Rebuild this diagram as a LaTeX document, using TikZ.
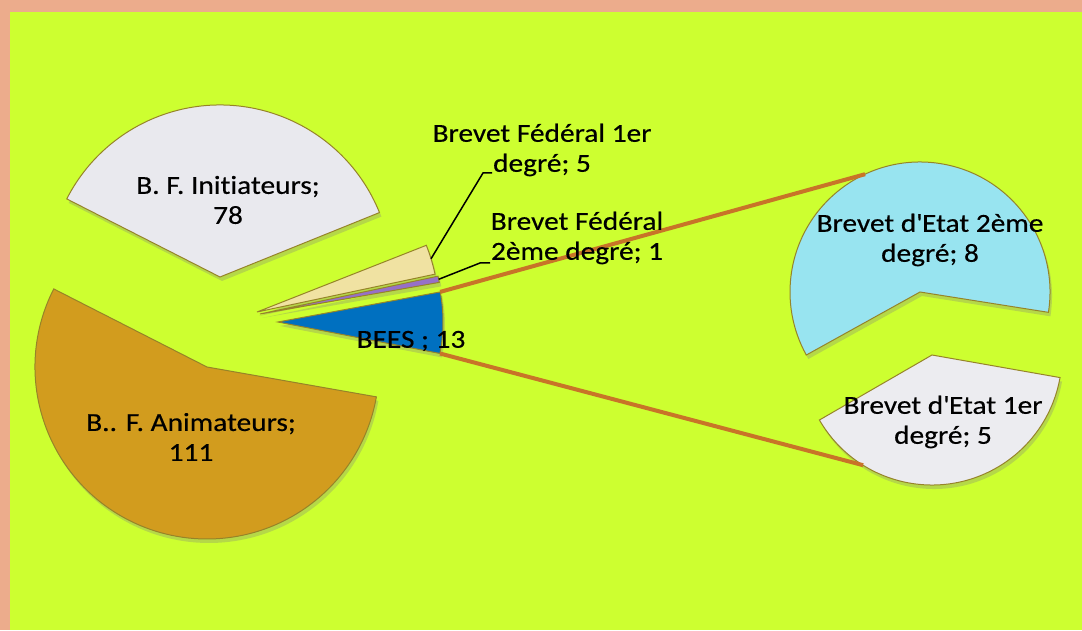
\documentclass[tikz,border=0pt]{standalone}
\usepackage{fontspec}
\setmainfont{Carlito}[FakeStretch=1.13,FakeBold=0.4,Ligatures=NoCommon]
\usetikzlibrary{shadows}
\definecolor{bggreen}{RGB}{205,255,48}
\definecolor{framesalmon}{RGB}{236,172,140}
\definecolor{initgrey}{RGB}{233,233,238}
\definecolor{animgold}{RGB}{210,156,30}
\definecolor{bfone}{RGB}{240,226,162}
\definecolor{bftwo}{RGB}{150,112,200}
\definecolor{beesblue}{RGB}{0,112,192}
\definecolor{betwo}{RGB}{152,228,240}
\definecolor{beone}{RGB}{236,236,240}
\definecolor{sliceline}{RGB}{150,132,40}
\definecolor{linkorange}{RGB}{200,116,40}

\begin{document}
\begin{tikzpicture}
[x=1pt,y=1pt,
slice/.style={draw=sliceline,line width=1pt,drop shadow={opacity=0.3,shadow xshift=2pt,shadow yshift=-4pt}},
lbl/.style={align=center,font=\fontsize{26}{30}\selectfont,inner sep=0pt},
link/.style={draw=linkorange,line width=4pt},
leader/.style={draw=black,line width=1.5pt}]
\useasboundingbox (0,0) rectangle (1082,630);
\fill[framesalmon] (0,0) rectangle (1082,630);
\fill[bggreen] (10,0) rectangle (1082,618);

% main pie
\path[slice,fill=initgrey] (220,353) -- ++(22:172pt) arc[start angle=22,end angle=153,radius=172pt] -- cycle;
\path[slice,fill=animgold] (207,263) -- ++(153:172pt) arc[start angle=153,end angle=350,radius=172pt] -- cycle;
\path[slice,fill=bfone] (257,318) -- ++(12:182pt) arc[start angle=12,end angle=21.5,radius=182pt] -- cycle;
\path[slice,fill=bftwo] (260,316) -- ++(10:182pt) arc[start angle=10,end angle=12,radius=182pt] -- cycle;
\path[slice,fill=beesblue] (278,308) -- ++(-11:165pt) arc[start angle=-11,end angle=10.5,radius=165pt] -- cycle;

% second pie
\path[slice,fill=betwo] (920,338) -- ++(-9:130pt) arc[start angle=-9,end angle=209,radius=130pt] -- cycle;
\path[slice,fill=beone] (932,275) -- ++(210:130pt) arc[start angle=210,end angle=350,radius=130pt] -- cycle;

\coordinate (bt) at (440.2,338.1);
\coordinate (bb) at (440.0,276.5);
\coordinate (e2) at (865.1,455.8);
\coordinate (e1) at (863.1,164.8);
\coordinate (f1) at (431.0,371.2);
\coordinate (f1k) at (483,457);
\coordinate (f1e) at (492,457);
\coordinate (f2) at (438.7,350.7);
\coordinate (f2k) at (480,367);
\coordinate (f2e) at (490,367);

\draw [link] (bt) -- (e2);
\draw [link] (bb) -- (e1);
\draw [leader] (f1) -- (f1k) -- (f1e);
\draw [leader] (f2) -- (f2k) -- (f2e);

\node[lbl] (init) at (228,430) {B. F. Initiateurs;\\78};
\node[lbl] (anim) at (191,193) {B.. F. Animateurs;\\111};
\node[lbl] (bees) at (411,289) {BEES ; 13};
\node[lbl] (bf1) at (542,480) {Brevet Fédéral 1er\\degré; 5};
\node[lbl] (bf2) at (577,392) {Brevet Fédéral\\2ème degré; 1};
\node[lbl] (be2) at (930,390) {Brevet d\textquotesingle Etat 2ème\\degré; 8};
\node[lbl] (be1) at (943,208) {Brevet d\textquotesingle Etat 1er\\degré; 5};
\end{tikzpicture}
\end{document}
